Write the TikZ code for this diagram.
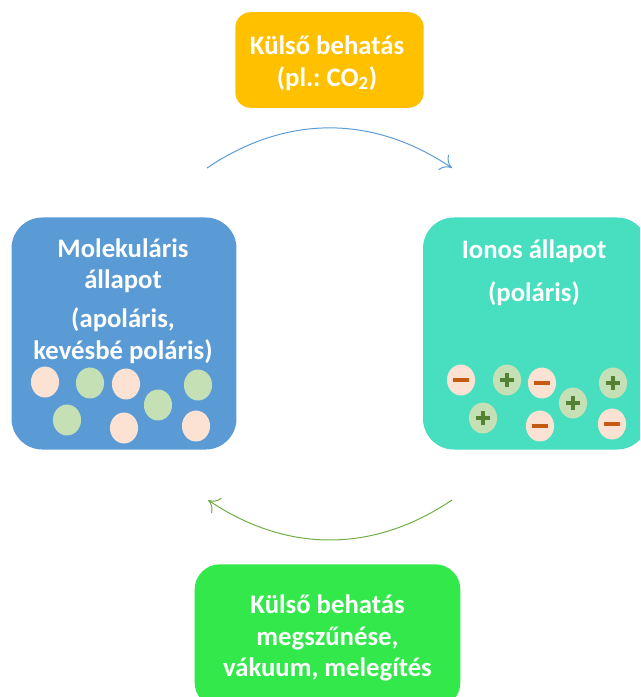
\documentclass[tikz,border=0pt]{standalone}
\usepackage{fontspec}
\setmainfont{Carlito}
\frenchspacing
\usetikzlibrary{shapes.geometric, calc, arrows.meta}

\definecolor{boxorange}{HTML}{FFC000}
\definecolor{boxblue}{HTML}{5B9BD5}
\definecolor{boxteal}{HTML}{48DEC0}
\definecolor{boxgreen}{HTML}{33E84B}
\definecolor{peach}{HTML}{FBE2D3}
\definecolor{leaf}{HTML}{C5E0B4}
\definecolor{minuscol}{HTML}{C55A11}
\definecolor{pluscol}{HTML}{548235}
\definecolor{arcgreen}{HTML}{70AD47}

\begin{document}
\begin{tikzpicture}[x=0.025cm, y=0.025cm,
      box/.style={rectangle, inner sep=0pt},
      label text/.style={text=white, font=\bfseries\fontsize{19}{22.5}\selectfont, align=center},
      ball/.style={ellipse, inner sep=0pt, minimum width=20pt, minimum height=22pt},
      apolar/.style={ball, fill=peach},
      weak/.style={ball, fill=leaf},
      anion/.style={ball, fill=peach,
        path picture={\draw[minuscol, line width=2.2pt]
          ([xshift=-5.6pt]path picture bounding box.center) -- ([xshift=5.6pt]path picture bounding box.center);}},
      cation/.style={ball, fill=leaf,
        path picture={\draw[pluscol, line width=2.8pt]
          ([xshift=-5pt]path picture bounding box.center) -- ([xshift=5pt]path picture bounding box.center)
          ([yshift=-5pt]path picture bounding box.center) -- ([yshift=5pt]path picture bounding box.center);}}]

      \useasboundingbox (0,0) rectangle (640,-697);
      \clip (0,0) rectangle (640,-697);

      % boxes
      \node[box, fill=boxorange, rounded corners=11pt, minimum width=134pt, minimum height=68pt] (ext) at (329.5,-60) {};
      \node[box, fill=boxblue, rounded corners=22pt, minimum width=160pt, minimum height=165pt] (mol) at (124,-333.5) {};
      \node[box, fill=boxteal, rounded corners=22pt, minimum width=160pt, minimum height=165pt] (ion) at (535.5,-333.5) {};
      \node[box, fill=boxgreen, rounded corners=18pt, minimum width=189pt, minimum height=102pt] (stop) at (327.5,-636) {};

      % texts
      \node[label text] (exttext) at (327,-63) {Külső behatás\\(pl.: CO\textsubscript{2})};
      \node[label text] (moltext) at (123,-301) {Molekuláris\\állapot\\[5pt](apoláris,\\kevésbé poláris)};
      \node[label text] (iontext) at (534,-273) {Ionos állapot\\[8pt](poláris)};
      \node[label text] (stoptext) at (327.5,-638) {Külső behatás\\megszűnése,\\vákuum, melegítés};

      % molecules
      \node[apolar] (p1) at (45,-382) {};
      \node[weak] (g1) at (90,-383) {};
      \node[apolar] (p2) at (126,-384) {};
      \node[weak] (g2) at (198,-385) {};
      \node[weak] (g3) at (158,-405) {};
      \node[weak] (g4) at (67,-420) {};
      \node[apolar] (p3) at (124,-428) {};
      \node[apolar] (p4) at (196,-426) {};

      % ions
      \node[anion] (m1) at (461,-380) {};
      \node[cation] (c1) at (507,-380) {};
      \node[anion] (m2) at (542,-383) {};
      \node[cation] (c2) at (613,-383) {};
      \node[cation] (c3) at (573,-403) {};
      \node[cation] (c4) at (483,-418) {};
      \node[anion] (m3) at (540,-426) {};
      \node[anion] (m4) at (612,-424) {};

      % arcs
      \coordinate (molup) at (207,-168);
      \coordinate (ionup) at (452,-168);
      \coordinate (iondown) at (452,-500);
      \coordinate (moldown) at (208,-500);
      \draw[boxblue, line width=0.7pt, -{To[length=7.5pt, width=13pt]}] (molup) to[bend left=34] (ionup);
      \draw[arcgreen, line width=0.7pt, -{To[length=7.5pt, width=13pt]}] (iondown) to[bend left=34] (moldown);
    \end{tikzpicture}
\end{document}
